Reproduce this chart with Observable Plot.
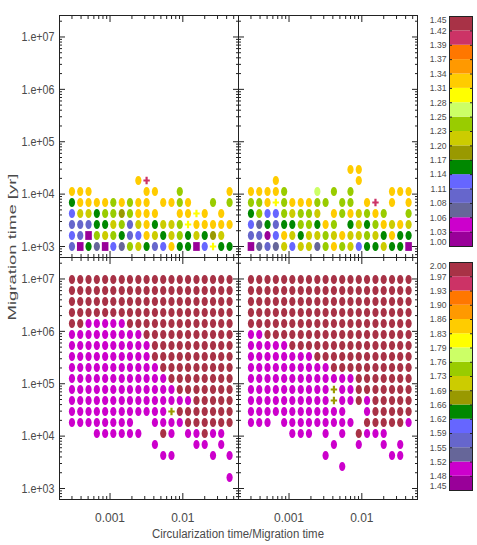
<!DOCTYPE html>
<html><head><meta charset="utf-8">
<script src="https://cdn.jsdelivr.net/npm/d3@7"></script>
<script src="https://cdn.jsdelivr.net/npm/@observablehq/plot@0.6"></script>
<style>
body{margin:0;background:#fff;}
#chart{position:relative;width:477px;height:545px;overflow:hidden;}
#chart > svg{position:absolute;}
</style></head><body><div id="chart"></div>
<script>
// ---------- data ----------
// x grid (circularization time / migration time), one value per column
const xCols = [3.0e-4, 3.9e-4, 5.07e-4, 6.59e-4, 8.57e-4, 1.11e-3, 1.45e-3, 1.88e-3, 2.45e-3, 3.18e-3,
               4.14e-3, 5.38e-3, 6.99e-3, 9.09e-3, 1.18e-2, 1.54e-2, 2.0e-2, 2.6e-2, 3.37e-2, 4.39e-2];
// y grid (migration time, yr), one value per row
const yRows = [1000, 1622, 2630, 4266, 6918, 11220, 18197, 29512, 47863, 77625,
               125893, 204174, 331131, 537032, 870964, 1412538, 2290868, 3715352, 6025596, 9772372];

// colour bins (lowest to highest)
const palette = ["#990099","#cc00cc","#666699","#6666cc","#6666ff","#008800","#999900","#cccc00",
                 "#99cc00","#ccff66","#ffff00","#ffcc00","#ff9900","#ff7700","#cc3366","#a83246"];
// codes: circle letters -> bin; q = square (bin 0); + * x = crosses
const circleCode = {P:0,M:1,S:2,B:3,L:4,G:5,O:6,Y:7,V:8,N:9,W:10,D:11,R:12,E:13,K:14,X:15};
const squareCode = {q:0};
const crossCode = {"+":10, "*":14, "x":6};

// panels: rows listed from top row to bottom row; first row index given
const topLeftTopRow = 6;
const topLeftRows = [
  "........D*..........",
  "DDD......DD..V.....D",
  "GDDDDVDVDD.DDVD..V.V",
  "LYYGVVOVDDD..DD+D.D.",
  "BBBGGYVBYDGYYV+DDDDD",
  "LBqVYVGBLDYGYVGYGOY.",
  "BqGSqLSVYGBLDGGqL+GG"
];
const topRightTopRow = 7;
const topRightRows = [
  "............DD......",
  "...D.........D......",
  "DDDDV...N.V.V....DDD",
  "VVD+VDDDVV.VV.D*.D.D",
  "GVLLVYVVY.DVDYVDV..V",
  "LSGBGGVVGDV.GYGVDYDY",
  "BBPLDYGYYVYDYYVYGDGG",
  "qSBSYLYYSVDVYLGGYGGq"
];
const bottomLeftTopRow = 19;
const bottomLeftRows = [
  "XXXXXXXXXXXXXXXXXXXX",
  "XXXXXXXXXXXXXXXXXXXX",
  "XXXXXXXXXXXXXXXXXXXX",
  "XXXXXXXXXXXXXXXXXXXX",
  "XXMMMMMXXXXXXXXXXXXX",
  "MMMMMMMMMXXXXXXXXXXX",
  "MMMMMMMMMMXXXXXXXXXX",
  "MMMMMMMMMMXXXXXXXXXX",
  "MMMMMMMMMMMXXXXXXXXX",
  "MMMMMMMMMMMMXXXXXXXX",
  "MMMMMMMMMMMMMXXXXXXX",
  "MMMMMMMMMMMMMMMXXXXX",
  "MMMMMMMMMMMMxXXXXXXX",
  "MMMMMMMM..MMMMXXXXXX",
  "...MMMMMM..XM.MMXMM.",
  "..........M....MM.M.",
  "...........MM....M.M",
  "....................",
  "...................M"
];
const bottomRightTopRow = 19;
const bottomRightRows = [
  "XXXXXXXXXXXXXXXXXXXX",
  "XXXXXXXXXXXXXXXXXXXX",
  "XXXXXXXXXXXXXXXXXXXX",
  "XXXXXXXXXXXXXXXXXXXX",
  "XXXXXXXXXXXXXXXXXXXX",
  "MMXXXXXXXXXXXXXXXXXX",
  "MMMMMXXXXXXXXXXXXXXX",
  "MMMMMMMMXXXXXXXXXXXX",
  "MMMMMMMMMMXXXXXXXXXX",
  "MMMMMMMMMMMMMXXXXXXX",
  "MMMMMMMMMMxMMXXXXXXX",
  "MMMMMMMMMMxMMXMXXXXX",
  "MMMMMMMMMMMM..MXXXXX",
  "MMM.MMMMMMMMM.XXXXXM",
  ".....MMM.M.M.XMMM...",
  "..........M..M..M.M.",
  ".........M.......MM.",
  "...........M........",
  "...................."
];

// tick labels
const xTickValues = [1e-3, 1e-2];
const xTickLabels = ["0.001", "0.01"];
const yTickValues = [1e3, 1e4, 1e5, 1e6, 1e7];
const yTickLabels = ["1.e+03", "1.e+04", "1.e+05", "1.e+06", "1.e+07"];
const topBarLabels = ["1.00","1.03","1.06","1.08","1.11","1.14","1.17","1.20","1.23","1.25","1.28","1.31","1.34","1.37","1.39","1.42","1.45"];
const bottomBarLabels = ["1.45","1.48","1.52","1.55","1.59","1.62","1.66","1.69","1.73","1.76","1.79","1.83","1.86","1.90","1.93","1.97","2.00"];
const xTitle = "Circularization time/Migration time";
const yTitle = "Migration time [yr]";

// ---------- drawing ----------
const FONT = '"Liberation Sans Narrow","Liberation Sans",Arial,sans-serif';
const TXT = "#4a4a4a";
const INK = "#222";
const xDomain = [10 ** -3.694, 10 ** -1.235];
const yDomain = [10 ** 2.79, 10 ** 7.41];
const inside = (v, dom) => v >= dom[0] && v <= dom[1];
const minorTicks = (d0, d1, dom) => {
  const out = [];
  for (let d = d0; d <= d1; d++) for (let m = 2; m <= 9; m++) out.push(m * 10 ** d);
  return out.filter(v => inside(v, dom));
};
const xMajor = [1e-4, 1e-3, 1e-2, 1e-1].filter(v => inside(v, xDomain));
const xMinor = minorTicks(-4, -2, xDomain);
const yMajor = [1e2, 1e3, 1e4, 1e5, 1e6, 1e7].filter(v => inside(v, yDomain));
const yMinor = minorTicks(2, 7, yDomain);

const K = 0.5523;
const ellipse = {draw(c) {
  const rx = 3.1, ry = 4.6;
  c.moveTo(rx, 0);
  c.bezierCurveTo(rx, ry * K, rx * K, ry, 0, ry);
  c.bezierCurveTo(-rx * K, ry, -rx, ry * K, -rx, 0);
  c.bezierCurveTo(-rx, -ry * K, -rx * K, -ry, 0, -ry);
  c.bezierCurveTo(rx * K, -ry, rx, -ry * K, rx, 0);
  c.closePath();
}};
const square = {draw(c) {
  const w = 3.3, h = 4.4;
  c.moveTo(-w, -h); c.lineTo(w, -h); c.lineTo(w, h); c.lineTo(-w, h); c.closePath();
}};
const cross = {draw(c) {
  const w = 3.2, h = 3.8, t = 1.1;
  c.moveTo(-t, -h); c.lineTo(t, -h); c.lineTo(t, -t); c.lineTo(w, -t); c.lineTo(w, t);
  c.lineTo(t, t); c.lineTo(t, h); c.lineTo(-t, h); c.lineTo(-t, t); c.lineTo(-w, t);
  c.lineTo(-w, -t); c.lineTo(-t, -t); c.closePath();
}};

function parse(rows, topRow) {
  const pts = [];
  rows.forEach((s, i) => {
    const k = topRow - i;
    [...s].forEach((ch, c) => {
      if (ch === ".") return;
      let shape, bin;
      if (ch in circleCode) { shape = "circle"; bin = circleCode[ch]; }
      else if (ch in squareCode) { shape = "square"; bin = squareCode[ch]; }
      else if (ch in crossCode) { shape = "cross"; bin = crossCode[ch]; }
      else return;
      pts.push({x: xCols[c], y: yRows[k], bin, shape});
    });
  });
  return pts;
}

function tickMarks() {
  const m = [];
  const o = {fill: "none", stroke: INK, label: null};
  for (const [vals, len] of [[xMajor, 6], [xMinor, 3]]) {
    m.push(Plot.axisX(vals, {...o, anchor: "bottom", tickSize: len, dy: -len}));
    m.push(Plot.axisX(vals, {...o, anchor: "top", tickSize: len, dy: len}));
  }
  for (const [vals, len] of [[yMajor, 6], [yMinor, 3]]) {
    m.push(Plot.axisY(vals, {...o, anchor: "left", tickSize: len, dx: len}));
    m.push(Plot.axisY(vals, {...o, anchor: "right", tickSize: len, dx: -len}));
  }
  return m;
}

function panel(rows, topRow, {left, bottom}) {
  const pts = parse(rows, topRow);
  const marks = [
    Plot.dot(pts.filter(d => d.shape === "circle"), {x: "x", y: "y", fill: "bin", symbol: ellipse}),
    Plot.dot(pts.filter(d => d.shape === "square"), {x: "x", y: "y", fill: "bin", symbol: square}),
    Plot.dot(pts.filter(d => d.shape === "cross"), {x: "x", y: "y", fill: "bin", symbol: cross}),
    ...tickMarks(),
    Plot.frame({stroke: INK})
  ];
  if (left) marks.push(Plot.axisY(yTickValues, {anchor: "left", tickSize: 0, tickPadding: 5, stroke: "none",
    fill: TXT, fontSize: 13, label: null, tickFormat: d => yTickLabels[yTickValues.indexOf(d)]}));
  if (bottom) marks.push(Plot.axisX(xTickValues, {anchor: "bottom", tickSize: 0, tickPadding: 14, stroke: "none",
    fill: TXT, fontSize: 12, label: null, tickFormat: d => xTickLabels[xTickValues.indexOf(d)]}));
  const p = Plot.plot({
    width: 179, height: 242, margin: 0,
    style: {overflow: "visible", fontFamily: FONT, background: "transparent"},
    x: {type: "log", domain: xDomain, axis: null},
    y: {type: "log", domain: yDomain, axis: null},
    color: {type: "ordinal", domain: d3.range(palette.length), range: palette},
    marks
  });
  // condense the y tick labels like the reference's narrow vector font
  d3.select(p).selectAll('g[aria-label="y-axis tick label"] text')
    .attr("textLength", 33).attr("lengthAdjust", "spacingAndGlyphs");
  return p;
}

function colorbar(labels, height) {
  const bins = d3.range(palette.length);
  const n = palette.length;
  const inner = labels.map((t, i) => ({t, i})).filter(d => d.i > 0 && d.i < n);
  const fs = 8.6;
  return Plot.plot({
    width: 23, height, margin: 0,
    style: {overflow: "visible", fontFamily: FONT, background: "transparent"},
    x: {domain: [0, 1], axis: null},
    y: {domain: [0, n], axis: null},
    color: {type: "ordinal", domain: bins, range: palette},
    marks: [
      Plot.rect(bins, {x1: () => 0, x2: () => 1, y1: d => d, y2: d => d + 1, fill: d => d}),
      Plot.axisY(d3.range(1, n), {anchor: "left", tickSize: 3, dx: 3, fill: "none", stroke: INK, label: null}),
      Plot.axisY(d3.range(1, n), {anchor: "right", tickSize: 3, dx: -3, fill: "none", stroke: INK, label: null}),
      Plot.text(inner, {x: () => 0, y: "i", text: "t", textAnchor: "end", dx: -3, fill: TXT, fontSize: fs}),
      Plot.text([labels[0]], {x: () => 0, y: () => 0, text: d => d, textAnchor: "end", dx: -3, dy: -4, fill: TXT, fontSize: fs}),
      Plot.text([labels[n]], {x: () => 0, y: () => n, text: d => d, textAnchor: "end", dx: -3, dy: 4, fill: TXT, fontSize: fs}),
      Plot.frame({stroke: INK})
    ]
  });
}

const chart = document.getElementById("chart");
function place(el, left, top) { el.style.position = "absolute"; el.style.left = left + "px"; el.style.top = top + "px"; chart.appendChild(el); }

place(panel(topLeftRows, topLeftTopRow, {left: true, bottom: false}), 59, 15);
place(panel(topRightRows, topRightTopRow, {left: false, bottom: false}), 238, 15);
place(panel(bottomLeftRows, bottomLeftTopRow, {left: true, bottom: true}), 59, 257);
place(panel(bottomRightRows, bottomRightTopRow, {left: false, bottom: true}), 238, 257);
place(colorbar(topBarLabels, 230), 449, 16);
place(colorbar(bottomBarLabels, 228), 449, 262);

// titles
const svg = d3.create("svg").attr("width", 477).attr("height", 545)
  .style("position", "absolute").style("left", "0px").style("top", "0px").style("pointer-events", "none");
svg.append("text").text(xTitle)
  .attr("x", 238).attr("y", 538).attr("text-anchor", "middle")
  .attr("font-family", FONT).attr("font-size", 12.5).attr("fill", TXT)
  .attr("textLength", 172).attr("lengthAdjust", "spacingAndGlyphs");
svg.append("text").text(yTitle)
  .attr("transform", "translate(15.5,247) rotate(-90)").attr("text-anchor", "middle")
  .attr("font-family", FONT).attr("font-size", 10.5).attr("fill", TXT)
  .attr("textLength", 147).attr("lengthAdjust", "spacingAndGlyphs");
chart.appendChild(svg.node());
</script></body></html>
